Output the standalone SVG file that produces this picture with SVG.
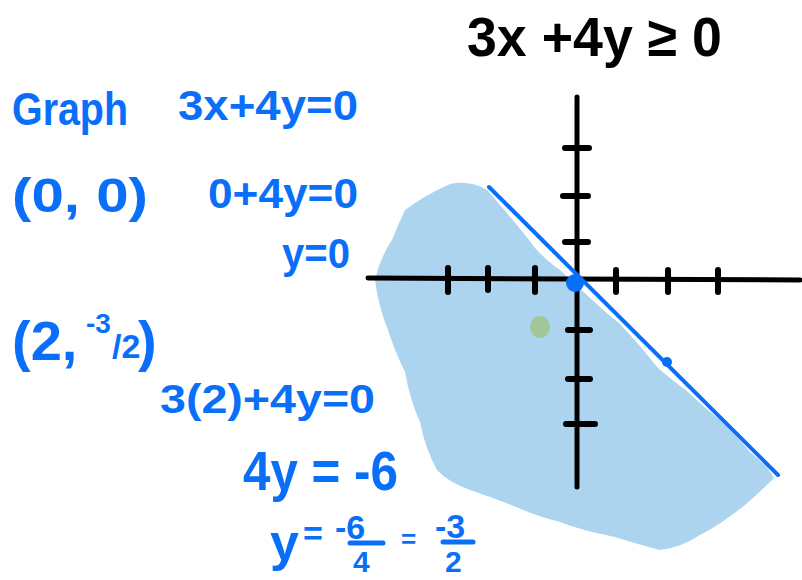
<svg xmlns="http://www.w3.org/2000/svg" width="802" height="580" viewBox="0 0 802 580">
<style>
.b{fill:#0a6ff8;font-family:"Liberation Sans",Arial,sans-serif;font-weight:bold}
.k{fill:#000;font-family:"Liberation Sans",Arial,sans-serif;font-weight:bold}
.ax{stroke:#000;stroke-width:5;stroke-linecap:round;fill:none}
.tk{stroke:#000;stroke-width:6;stroke-linecap:round;fill:none}
.bar{stroke:#0a6ff8;stroke-width:5;stroke-linecap:round}
</style>
<rect width="802" height="580" fill="#fff"/>
<g id="shading">
<path fill="#acd4ef" d="M450,184 Q470,180 487,190 L500,205 Q520,228 535,248 Q548,262 560,270 L588,296 Q605,312 620,324 Q640,345 658,368 Q672,380 688,392 Q705,408 720,420 Q738,437 750,452 Q768,466 774,478 Q760,492 745,505 Q720,525 700,535 Q680,548 660,550 Q640,545 615,537 Q580,530 560,522 Q540,517 523,510 Q500,500 470,490 Q448,482 437,470 Q425,448 420,422 Q410,400 405,372 Q395,352 388,330 Q378,305 375,280 Q380,258 392,240 Q398,225 405,210 Q425,195 450,184 Z"/>
</g>
<g id="axes">
<line class="ax" x1="368" y1="278" x2="800" y2="280"/>
<line class="ax" x1="577" y1="97" x2="577" y2="487"/>
<path class="tk" d="M448,268V292M488,268V290M535,268V292M616,270V292M668,270V292M718,270V292"/>
<path class="tk" d="M565,148H589M563,196H588M565,242H588M568,330H590M568,379H590M566,424H595"/>
</g>
<g id="boundary">
<line x1="489" y1="187" x2="778" y2="475" stroke="#0a6ff8" stroke-width="4" stroke-linecap="round"/>
<circle cx="575" cy="283" r="9" fill="#0a6ff8"/>
<circle cx="667" cy="362" r="5" fill="#0a6ff8"/>
<ellipse cx="540" cy="327" rx="10" ry="11" fill="#a3c59a"/>
</g>
<g id="title">
<text class="k" x="467" y="56" font-size="56" textLength="255" lengthAdjust="spacingAndGlyphs">3x +4y ≥ 0</text>
</g>
<g id="work">
<text class="b" x="12" y="125" font-size="46" textLength="116" lengthAdjust="spacingAndGlyphs">Graph</text>
<text class="b" x="178" y="120" font-size="42" textLength="180" lengthAdjust="spacingAndGlyphs">3x+4y=0</text>
<text class="b" x="12" y="212" font-size="48" textLength="136" lengthAdjust="spacingAndGlyphs">(0, 0)</text>
<text class="b" x="208" y="208" font-size="42" textLength="150" lengthAdjust="spacingAndGlyphs">0+4y=0</text>
<text class="b" x="282" y="268" font-size="42" textLength="68" lengthAdjust="spacingAndGlyphs">y=0</text>
<text class="b" x="12" y="360" font-size="56">(2,<tspan x="86" y="333" font-size="28">-3</tspan><tspan x="112" y="358" font-size="34">/2</tspan><tspan x="138" y="360" font-size="56">)</tspan></text>
<text class="b" x="160" y="413" font-size="40" textLength="215" lengthAdjust="spacingAndGlyphs">3(2)+4y=0</text>
<text class="b" x="243" y="490" font-size="56" textLength="155" lengthAdjust="spacingAndGlyphs">4y = -6</text>
<text class="b" x="270" y="560" font-size="52">y</text>
<text class="b" x="303" y="545" font-size="34">=</text>
<text class="b" x="335" y="539" font-size="34">-6</text>
<line class="bar" x1="350" y1="543" x2="383" y2="543"/>
<text class="b" x="353" y="572" font-size="30">4</text>
<text class="b" x="401" y="548" font-size="26">=</text>
<text class="b" x="435" y="538" font-size="34">-3</text>
<line class="bar" x1="443" y1="542" x2="473" y2="542"/>
<text class="b" x="445" y="572" font-size="30">2</text>
</g>
</svg>
